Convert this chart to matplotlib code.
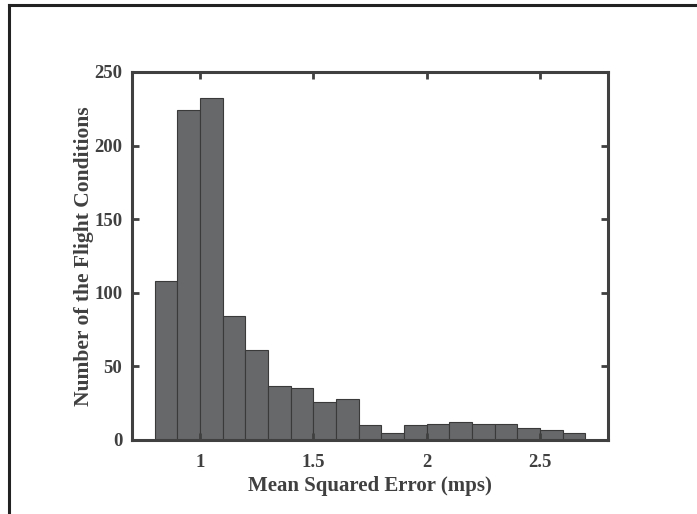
import numpy as np
import matplotlib
matplotlib.use("Agg")
import matplotlib.pyplot as plt
from matplotlib.lines import Line2D

# histogram bins (width 0.1) and counts
bin_edges = [0.8, 0.9, 1.0, 1.1, 1.2, 1.3, 1.4, 1.5, 1.6, 1.7, 1.8,
             1.9, 2.0, 2.1, 2.2, 2.3, 2.4, 2.5, 2.6, 2.7]
counts = [108, 224, 232, 84, 61, 37, 35, 26, 28, 10, 5,
          10, 11, 12, 11, 11, 8, 7, 5]
x_ticks = [1, 1.5, 2, 2.5]
x_tick_labels = ["1", "1.5", "2", "2.5"]
y_ticks = [0, 50, 100, 150, 200, 250]

axis_col = "#404040"
plt.rcParams["font.family"] = "Liberation Serif"
plt.rcParams["font.weight"] = "bold"

fig = plt.figure(figsize=(6.97, 5.14), dpi=100)
ax = fig.add_axes([132 / 697, 74 / 514, 476 / 697, 368 / 514])

widths = np.diff(bin_edges)
ax.bar(bin_edges[:-1], counts, width=widths, align="edge",
       color="#676869", edgecolor="#3a3a3a", linewidth=0.8)

ax.set_xlim(0.7, 2.8)
ax.set_ylim(0, 250)
ax.set_xticks(x_ticks)
ax.set_xticklabels(x_tick_labels)
ax.set_yticks(y_ticks)

for s in ax.spines.values():
    s.set_color(axis_col)
    s.set_linewidth(2.2)
ax.tick_params(direction="in", length=5, width=2, color=axis_col,
               labelcolor=axis_col, labelsize=13.5, top=True, right=True)
ax.tick_params(axis="x", pad=10)
ax.tick_params(axis="y", pad=7)
ax.set_xlabel("Mean Squared Error (mps)", fontsize=15, color=axis_col,
              fontweight="bold", labelpad=4)
ax.set_ylabel("Number of the Flight Conditions", fontsize=15.5,
              color=axis_col, fontweight="bold", labelpad=0)

# outer frame (top and left only)
fig.add_artist(Line2D([8.5 / 697, 1.0], [1 - 4.5 / 514, 1 - 4.5 / 514],
                      transform=fig.transFigure, color="#222222", lw=2.2))
fig.add_artist(Line2D([8.5 / 697, 8.5 / 697], [0, 1 - 4.5 / 514],
                      transform=fig.transFigure, color="#222222", lw=2.2))

fig.savefig("out.png", dpi=100)
